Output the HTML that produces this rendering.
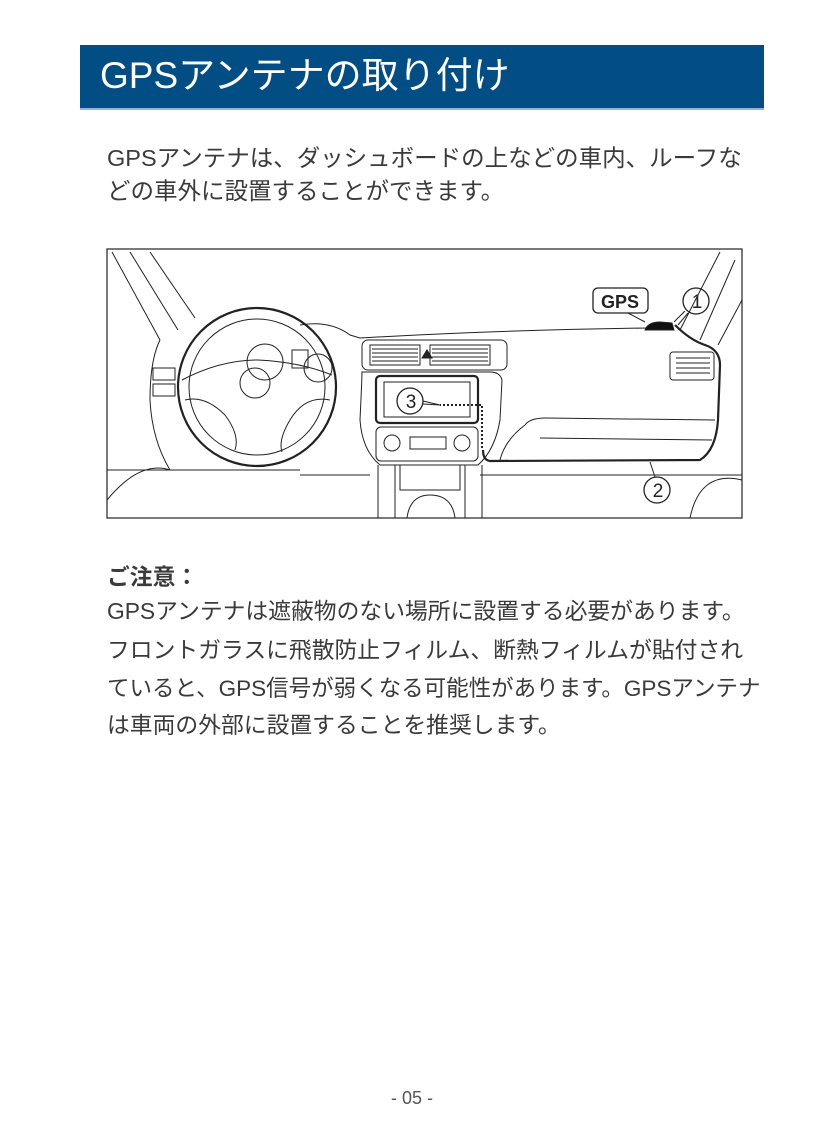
<!DOCTYPE html>
<html><head><meta charset="utf-8"><style>
html,body{margin:0;padding:0;background:#fff;}
body{width:824px;height:1138px;position:relative;overflow:hidden;font-family:"Liberation Sans","Noto Sans CJK JP",sans-serif;color:#3a3a3a;}
.hdr{position:absolute;left:80px;top:45px;width:684px;height:65px;background:#024d84;border-bottom:2px solid #8fb3d6;box-sizing:border-box;}
.hdr span{position:absolute;left:20px;top:8px;font-size:37px;color:#fff;white-space:nowrap;line-height:46px;}
.t{position:absolute;left:107px;font-size:22.8px;white-space:nowrap;line-height:30px;}
.pn{position:absolute;top:1088px;left:0;width:824px;text-align:center;font-size:18px;color:#555;}
svg{position:absolute;left:0;top:0;}
</style></head><body>
<div class="hdr"><span>GPSアンテナの取り付け</span></div>
<div class="t" style="top:143px;font-size:23.5px">GPSアンテナは、ダッシュボードの上などの車内、ルーフな</div>
<div class="t" style="top:176px;font-size:23.5px">どの車外に設置することができます。</div>

<div class="t" style="top:562px;font-weight:bold">ご注意：</div>
<div class="t" style="top:596px">GPSアンテナは遮蔽物のない場所に設置する必要があります。</div>
<div class="t" style="top:635px">フロントガラスに飛散防止フィルム、断熱フィルムが貼付され</div>
<div class="t" style="top:674px;font-size:22.5px">ていると、GPS信号が弱くなる可能性があります。GPSアンテナ</div>
<div class="t" style="top:710px">は車両の外部に設置することを推奨します。</div>

<svg width="824" height="1138" viewBox="0 0 824 1138">
<g fill="none" stroke="#222" stroke-width="1">
<rect x="107" y="249" width="635" height="269" stroke-width="1.2"/>
<path d="M112 252 L160 340 M130 252 L178 330 M150 252 L195 318"/>
<path d="M720 252 L680 330 M735 260 L700 340 M742 300 L718 345"/>
<path d="M300 325 Q330 320 350 335 L360 338 Q500 330 648 328"/>
<path d="M160 340 Q150 360 150 400 Q152 440 170 470 L300 470"/>
<path d="M107 470 L180 470 M300 475 L370 475 M480 475 L742 475"/>
<path d="M107 500 Q140 460 170 470 M742 480 Q700 470 690 518"/>
<circle cx="265" cy="362" r="18"/><circle cx="318" cy="368" r="14"/>
<rect x="292" y="350" width="16" height="18"/>
<rect x="153" y="368" width="22" height="12"/><rect x="153" y="384" width="22" height="12"/>
<rect x="362" y="340" width="145" height="30" rx="6"/>
<rect x="370" y="345" width="50" height="20"/><rect x="430" y="345" width="60" height="20"/>
<path d="M372 349 H418 M372 353 H418 M372 357 H418 M372 361 H418 M432 349 H488 M432 353 H488 M432 357 H488 M432 361 H488"/>
<path d="M422 358 L427 350 L432 358 Z" fill="#222"/>
<path d="M362 372 Q362 378 360 420 Q362 450 380 465 L478 465 Q495 450 500 420 L502 380 Q500 372 490 372 Z"/>
<rect x="376" y="376" width="102" height="47" rx="4" stroke-width="2.2"/>
<rect x="384" y="382" width="86" height="35"/>
<rect x="376" y="427" width="102" height="34" rx="5"/>
<circle cx="392" cy="443" r="8"/><circle cx="462" cy="443" r="8"/>
<rect x="410" y="437" width="36" height="12"/>
<path d="M378 465 L378 518 M395 465 L395 518 M465 465 L465 518 M482 465 L482 518 M400 465 L400 490 L460 490 L460 465"/>
<path d="M407 518 Q410 495 430 495 Q452 495 455 518"/>
<path d="M525 425 Q530 418 545 418 L715 420"/>
<path d="M525 425 Q505 440 500 460"/>
<path d="M540 438 L712 440"/>
<rect x="670" y="352" width="44" height="28" rx="3"/>
<path d="M676 358 H710 M676 363 H710 M676 368 H710 M676 373 H710"/>
<circle cx="257" cy="387" r="79" stroke-width="2.2"/>
<circle cx="257" cy="387" r="68"/>
<circle cx="255" cy="383" r="15"/>
<path d="M182 380 Q220 360 258 360 Q300 362 332 375 M185 400 Q205 395 225 415 Q240 435 235 450 M330 400 Q305 395 290 420 Q278 440 282 452"/>
<path d="M675 325 Q690 340 705 345 Q720 350 720 365 L718 420 Q716 450 700 460 L490 461 Q483 460 483 450" stroke-width="2.2"/>
<path d="M482 448 L482 405 L440 405" stroke-dasharray="2 2" stroke-width="2"/>
<path d="M645 330 Q648 322 660 322 L672 323 L674 330 Z" fill="#111"/>
<rect x="593" y="288" width="55" height="25" rx="5" stroke-width="1.3"/>
<path d="M628 313 L645 322"/>
<circle cx="696" cy="301" r="13" stroke-width="1.3"/>
<path d="M688 313 L678 325 M685 311 L674 322"/>
<circle cx="657" cy="490" r="13" stroke-width="1.3"/>
<path d="M655 477 L650 462"/>
<circle cx="410" cy="401" r="13" stroke-width="1.3"/>
<path d="M423 401 L440 405 M423 404 L440 405"/>
</g>
<g font-family="Liberation Sans,sans-serif" fill="#222" text-anchor="middle">
<text x="620" y="308" font-size="18" font-weight="bold">GPS</text>
<text x="697" y="308" font-size="19">1</text>
<text x="658" y="497" font-size="19">2</text>
<text x="411" y="408" font-size="19">3</text>
</g>
</svg>
<div class="pn">- 05 -</div>
</body></html>
